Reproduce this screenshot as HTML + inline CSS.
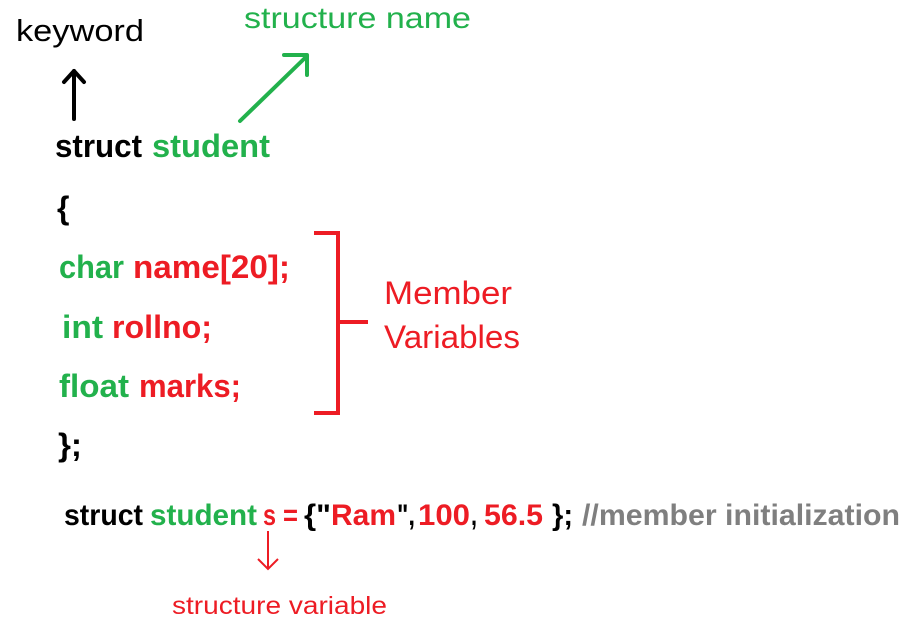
<!DOCTYPE html>
<html><head><meta charset="utf-8"><style>
html,body{margin:0;padding:0;background:#fff;width:909px;height:624px;overflow:hidden}
svg{display:block}
text{font-family:"Liberation Sans",sans-serif}
.b{font-weight:bold}
</style></head><body>
<svg width="909" height="624" viewBox="0 0 909 624" xmlns="http://www.w3.org/2000/svg">
<text x="16" y="41" font-size="31" fill="#000" textLength="128" lengthAdjust="spacingAndGlyphs">keyword</text>
<text x="244" y="28" font-size="30" fill="#22b14c" textLength="227" lengthAdjust="spacingAndGlyphs">structure name</text>
<g stroke="#000" stroke-width="4" fill="none" stroke-linecap="round" stroke-linejoin="round">
<line x1="74" y1="119" x2="74" y2="71"/><polyline points="64,82 74,71 84,82"/>
</g>
<g stroke="#22b14c" stroke-width="4" fill="none" stroke-linecap="round" stroke-linejoin="round">
<line x1="240" y1="121" x2="307" y2="56"/><polyline points="284,55 307,55 307,75"/>
</g>
<g class="b" font-size="32">
<text x="55" y="157" fill="#000" textLength="87" lengthAdjust="spacingAndGlyphs">struct</text>
<text x="152" y="157" fill="#22b14c" textLength="118" lengthAdjust="spacingAndGlyphs">student</text>
<text x="57" y="219" fill="#000">{</text>
<text x="59" y="278" fill="#22b14c" textLength="65" lengthAdjust="spacingAndGlyphs">char</text>
<text x="133" y="278" fill="#ed1c24" textLength="157" lengthAdjust="spacingAndGlyphs">name[20];</text>
<text x="62" y="338" fill="#22b14c" textLength="41" lengthAdjust="spacingAndGlyphs">int</text>
<text x="112" y="338" fill="#ed1c24" textLength="100" lengthAdjust="spacingAndGlyphs">rollno;</text>
<text x="59" y="397" fill="#22b14c" textLength="70" lengthAdjust="spacingAndGlyphs">float</text>
<text x="139" y="397" fill="#ed1c24" textLength="102" lengthAdjust="spacingAndGlyphs">marks;</text>
<text x="58" y="456" fill="#000" textLength="24" lengthAdjust="spacingAndGlyphs">};</text>
</g>
<g stroke="#ed1c24" stroke-width="4" fill="none">
<polyline points="314,233 338,233 338,413 314,413"/><line x1="338" y1="322" x2="368" y2="322"/>
</g>
<text x="384" y="304" font-size="32" fill="#ed1c24" textLength="128" lengthAdjust="spacingAndGlyphs">Member</text>
<text x="384" y="348" font-size="32" fill="#ed1c24" textLength="136" lengthAdjust="spacingAndGlyphs">Variables</text>
<g class="b" font-size="30">
<text x="64" y="525" fill="#000" textLength="79" lengthAdjust="spacingAndGlyphs">struct</text>
<text x="150" y="525" fill="#22b14c" textLength="107" lengthAdjust="spacingAndGlyphs">student</text>
<text x="263" y="525" fill="#ed1c24" textLength="13" lengthAdjust="spacingAndGlyphs">s</text>
<text x="283" y="525" fill="#ed1c24" textLength="15" lengthAdjust="spacingAndGlyphs">=</text>
<text x="304" y="525" fill="#000" textLength="27" lengthAdjust="spacingAndGlyphs">{"</text>
<text x="331" y="525" fill="#ed1c24" textLength="65" lengthAdjust="spacingAndGlyphs">Ram</text>
<text x="397" y="525" fill="#000" textLength="18" lengthAdjust="spacingAndGlyphs">",</text>
<text x="418" y="525" fill="#ed1c24" textLength="52" lengthAdjust="spacingAndGlyphs">100</text>
<text x="471" y="525" fill="#000" textLength="6" lengthAdjust="spacingAndGlyphs">,</text>
<text x="484" y="525" fill="#ed1c24" textLength="59" lengthAdjust="spacingAndGlyphs">56.5</text>
<text x="552" y="525" fill="#000" textLength="21" lengthAdjust="spacingAndGlyphs">};</text>
<text x="582" y="525" fill="#7f7f7f" textLength="318" lengthAdjust="spacingAndGlyphs">//member initialization</text>
</g>
<g stroke="#ed1c24" stroke-width="2" fill="none">
<line x1="268" y1="531" x2="268" y2="569"/><polyline points="258,559 268,569 278,559"/>
</g>
<text x="172" y="614" font-size="25" fill="#ed1c24" textLength="215" lengthAdjust="spacingAndGlyphs">structure variable</text>
</svg>
</body></html>
